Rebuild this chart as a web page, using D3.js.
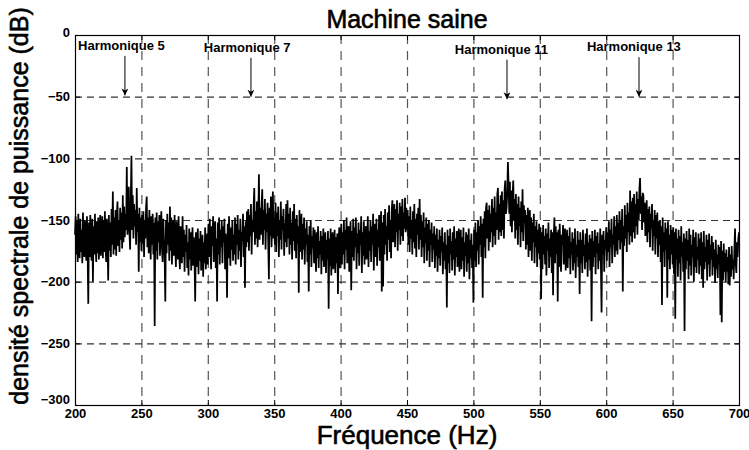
<!DOCTYPE html>
<html>
<head>
<meta charset="utf-8">
<script src="https://cdn.jsdelivr.net/npm/d3@7"></script>
<style>
  html, body { margin: 0; padding: 0; background: #fff; }
  svg { display: block; }
  text { font-family: "Liberation Sans", Arial, Helvetica, sans-serif; }
</style>
</head>
<body>
<div id="chart"></div>
<script>
// ---- Data ----
const freqStart = 200;   // Hz, first sample
const freqStep = 0.5;    // Hz between samples
const psd = [
-162,-147,-178,-151,-184,-145,-170,-181,-149,-176,-158,-185,-144,-172,-180,-150,-166,-183,-147,-175,
-218,-152,-180,-146,-174,-183,-149,-200,-155,-178,-145,-169,-184,-151,-177,-148,-182,-160,-146,-179,
-163,-147,-181,-150,-176,-143,-172,-184,-149,-168,-199,-146,-175,-152,-180,-141,-170,-127,-178,-148,
-174,-142,-179,-146,-135,-171,-150,-176,-140,-166,-144,-173,-130,-168,-139,-164,-145,-158,-107,-162,
-150,-123,-160,-174,-135,-98,-158,-130,-165,-137,-155,-142,-170,-124,-160,-145,-192,-140,-168,-148,
-175,-146,-169,-143,-180,-150,-165,-140,-131,-172,-148,-177,-142,-163,-182,-147,-170,-145,-178,-152,
-236,-148,-175,-144,-182,-151,-168,-146,-179,-155,-143,-173,-184,-149,-166,-180,-216,-150,-177,-145,
-170,-152,-183,-139,-175,-148,-186,-157,-150,-179,-146,-172,-188,-151,-168,-182,-147,-177,-190,-155,
-172,-185,-147,-180,-158,-192,-162,-176,-154,-189,-168,-195,-157,-182,-160,-191,-171,-156,-187,-164,
-180,-216,-160,-188,-170,-157,-194,-165,-183,-159,-191,-173,-162,-196,-168,-185,-156,-190,-175,-161,
-186,-153,-180,-149,-175,-190,-155,-171,-147,-184,-160,-151,-189,-165,-216,-152,-178,-148,-186,-158,
-172,-150,-185,-155,-168,-149,-190,-161,-176,-213,-153,-181,-147,-170,-187,-156,-174,-150,-183,-162,
-178,-148,-186,-153,-170,-146,-182,-158,-175,-149,-188,-160,-167,-145,-180,-155,-205,-151,-172,-143,
-168,-141,-175,-146,-163,-137,-178,-150,-160,-139,-124,-170,-143,-165,-135,-172,-148,-113,-166,-140,
-162,-138,-125,-170,-142,-158,-133,-174,-145,-160,-136,-168,-198,-140,-163,-131,-172,-146,-127,-165,
-148,-170,-136,-176,-144,-163,-139,-180,-150,-166,-135,-174,-147,-158,-141,-179,-152,-168,-137,-172,
-134,-165,-145,-178,-140,-170,-152,-182,-143,-167,-137,-175,-149,-181,-146,-169,-155,-209,-142,-176,
-160,-145,-182,-153,-174,-148,-186,-157,-170,-151,-184,-162,-208,-155,-178,-150,-188,-163,-173,-156,
-185,-158,-176,-192,-160,-181,-155,-189,-167,-178,-159,-194,-163,-183,-157,-188,-171,-160,-193,-166,
-182,-159,-222,-165,-187,-157,-195,-170,-160,-190,-176,-158,-193,-164,-185,-161,-210,-168,-156,-189,
-171,-153,-186,-160,-178,-150,-190,-158,-174,-148,-185,-163,-155,-192,-167,-151,-207,-159,-180,-149,
-183,-156,-172,-148,-190,-161,-177,-152,-187,-158,-170,-147,-193,-160,-179,-151,-186,-164,-155,-182,
-168,-147,-188,-159,-175,-150,-184,-155,-170,-145,-191,-162,-153,-180,-149,-187,-158,-172,-146,-183,
-160,-143,-208,-152,-204,-146,-178,-141,-170,-155,-183,-144,-166,-138,-176,-150,-181,-142,-134,-168,
-150,-137,-172,-141,-160,-134,-175,-145,-158,-136,-170,-139,-163,-133,-167,-144,-157,-132,-160,-140,
-158,-142,-170,-147,-176,-139,-165,-150,-178,-143,-168,-137,-173,-149,-180,-145,-162,-140,-174,-133,
-166,-146,-180,-151,-172,-144,-185,-156,-169,-148,-183,-153,-175,-150,-188,-158,-170,-152,-184,-161,
-174,-155,-189,-162,-179,-157,-192,-166,-181,-158,-187,-163,-176,-156,-194,-168,-183,-160,-190,-170,
-221,-158,-185,-163,-193,-157,-178,-167,-191,-160,-182,-155,-195,-165,-180,-159,-188,-170,-157,-192,
-172,-158,-190,-164,-183,-156,-196,-168,-179,-160,-192,-162,-185,-157,-198,-166,-181,-161,-189,-170,
-217,-158,-183,-152,-188,-160,-175,-150,-186,-155,-170,-147,-180,-153,-213,-149,-172,-143,-181,-140,
-136,-165,-142,-175,-138,-168,-145,-160,-133,-172,-140,-163,-131,-170,-144,-158,-129,-124,-166,-137,
-160,-130,-163,-127,-158,-134,-165,-125,-118,-145,-140,-128,-103,-122,-145,-119,-155,-126,-160,-131,
-118,-150,-133,-165,-129,-158,-137,-170,-131,-155,-140,-172,-135,-160,-125,-167,-138,-152,-142,-174,
-146,-170,-140,-180,-150,-142,-175,-148,-183,-152,-168,-145,-185,-155,-172,-151,-188,-158,-177,-153,
-182,-156,-214,-160,-190,-154,-178,-163,-186,-157,-195,-161,-175,-152,-189,-165,-180,-158,-193,-160,
-211,-163,-148,-185,-155,-178,-160,-216,-158,-188,-153,-176,-192,-162,-170,-154,-186,-165,-157,-191,
-175,-158,-189,-163,-181,-156,-194,-168,-178,-160,-191,-165,-185,-157,-197,-170,-180,-159,-188,-166,
-210,-160,-185,-166,-193,-158,-179,-170,-190,-161,-184,-157,-196,-168,-182,-162,-191,-165,-232,-159,
-188,-167,-180,-158,-194,-163,-177,-160,-190,-169,-183,-157,-186,-225,-162,-178,-159,-192,-166,-174,
-156,-183,-160,-176,-151,-188,-158,-172,-149,-185,-162,-170,-147,-180,-155,-175,-146,-178,-152,-166,
-143,-174,-150,-168,-141,-208,-155,-171,-138,-165,-146,-176,-136,-160,-144,-170,-126,-163,-135,-168,
-132,-160,-129,-165,-137,-155,-127,-162,-133,-150,-125,-116,-145,-131,-158,-128,-130,-152,-136,-163,
-148,-134,-168,-141,-160,-139,-172,-145,-157,-137,-175,-150,-163,-142,-178,-146,-165,-144,-180,-151,
-170,-150,-184,-155,-219,-148,-176,-160,-188,-152,-174,-157,-213,-151,-182,-162,-190,-154,-178,-158,
-186,-156,-194,-160,-230,-157,-182,-165,-196,-158,-185,-163,-199,-155,-180,-168,-192,-161,-240,-165,
-190,-159,-183,-166,-198,-157,-187,-162,-195,-170,-180,-158,-200,-164,-188,-160,-193,-172,-182,-161,
-194,-165,-187,-160,-198,-168,-205,-159,-190,-172,-184,-162,-199,-166,-186,-161,-196,-170,-182,-163,
-195,-168,-188,-174,-201,-166,-190,-178,-197,-170,-185,-172,-227,-167,-233,-175,-199,-169,-192,-177,
-200,-174,-192,-180,-202,-172,-203,-178,-196,-171,-190,-182,-198,-175,-157,-185,-193,-168,-180,-165,
-160
];
const xTicks = [200, 250, 300, 350, 400, 450, 500, 550, 600, 650, 700];
const yTicks = [0, -50, -100, -150, -200, -250, -300];
const harmonicLabels = ["Harmonique 5", "Harmonique 7", "Harmonique 11", "Harmonique 13"];
const harmonicArrowFreq = [237.6, 332.5, 525.3, 624.7];   // arrow x (Hz)
const harmonicLabelFreq = [202.3, 297.0, 486.0, 585.5];   // label left edge (Hz)
const harmonicLabelDb = [-12, -13.5, -15.5, -13];        // label baseline (dB)
const arrowTopDb = [-17, -18.5, -20, -18];
const arrowTipDb = [-49, -50, -52, -50];
const titleText = "Machine saine";
const xLabelText = "Fréquence (Hz)";
const yLabelText = "densité spectrale de puissance (dB)";

// ---- Layout ----
const W = 749, H = 450;
const L = 75, R = 739, T = 35, B = 405;

const svg = d3.select("#chart").append("svg")
  .attr("width", W).attr("height", H)
  .attr("viewBox", `0 0 ${W} ${H}`);
svg.append("rect").attr("width", W).attr("height", H).attr("fill", "#fff");

const x = d3.scaleLinear().domain([200, 700]).range([L, R]);
const y = d3.scaleLinear().domain([-300, 0]).range([B, T]);

// grid
const grid = svg.append("g");
grid.selectAll("line.vg").data(xTicks.slice(1, -1)).join("line")
  .attr("x1", d => x(d) + 0.5).attr("x2", d => x(d) + 0.5)
  .attr("y1", T).attr("y2", B)
  .attr("stroke", "#555").attr("stroke-width", 1.2)
  .attr("stroke-dasharray", "9,7");
grid.selectAll("line.hg").data(yTicks.slice(1, -1)).join("line")
  .attr("x1", L).attr("x2", R)
  .attr("y1", d => y(d) + 0.5).attr("y2", d => y(d) + 0.5)
  .attr("stroke", "#333").attr("stroke-width", 1.2)
  .attr("stroke-dasharray", "7,5");

// data line
const pts = psd.map((v, i) => [freqStart + i * freqStep, v]);
const line = d3.line().x(d => x(d[0])).y(d => y(d[1]));
svg.append("path").datum(pts)
  .attr("d", line)
  .attr("fill", "none")
  .attr("stroke", "#000")
  .attr("stroke-width", 1.75)
  .attr("stroke-linejoin", "miter")
  .attr("stroke-miterlimit", 3);

// axes
const fontTick = "bold 13px 'Liberation Sans', Arial, sans-serif";
svg.append("g").attr("transform", `translate(0,${B})`)
  .call(d3.axisBottom(x).tickValues(xTicks).tickSizeInner(-5).tickSizeOuter(0).tickPadding(4));
svg.append("g").attr("class", "yax").attr("transform", `translate(${L},0)`)
  .call(d3.axisLeft(y).tickValues(yTicks).tickSizeInner(-5).tickSizeOuter(0).tickPadding(5));
svg.append("g").attr("transform", `translate(0,${T})`)
  .call(d3.axisTop(x).tickValues(xTicks).tickSizeInner(-5).tickSizeOuter(0).tickFormat(""));
svg.append("g").attr("transform", `translate(${R},0)`)
  .call(d3.axisRight(y).tickValues(yTicks).tickSizeInner(-5).tickSizeOuter(0).tickFormat(""));
svg.selectAll(".domain").remove();
svg.selectAll(".tick line").attr("stroke", "#000");
svg.selectAll(".tick text").style("font", fontTick).attr("fill", "#000");
// lift the bottom-most y label slightly, as in the reference
svg.select(".yax").selectAll(".tick text").filter(d => d === -300).attr("dy", "-0.1em");
svg.select(".yax").selectAll(".tick text").filter(d => d === 0).attr("dy", "0.1em");

// box
svg.append("rect").attr("x", L + 0.5).attr("y", T + 0.5)
  .attr("width", R - L).attr("height", B - T)
  .attr("fill", "none").attr("stroke", "#000").attr("stroke-width", 1.2);

// annotations
const defs = svg.append("defs");
defs.append("marker").attr("id", "ah").attr("viewBox", "0 0 10 10")
  .attr("refX", 10).attr("refY", 5).attr("markerWidth", 7).attr("markerHeight", 7)
  .attr("markerUnits", "userSpaceOnUse").attr("orient", "auto")
  .append("path").attr("d", "M0,0 L10,5 L0,10 L3,5 Z").attr("fill", "#000");

const ann = svg.append("g");
harmonicLabels.forEach((lab, i) => {
  ann.append("text").attr("x", x(harmonicLabelFreq[i])).attr("y", y(harmonicLabelDb[i]))
    .style("font", "bold 13px 'Liberation Sans', Arial, sans-serif")
    .attr("fill", "#000").text(lab);
  ann.append("line")
    .attr("x1", x(harmonicArrowFreq[i])).attr("x2", x(harmonicArrowFreq[i]))
    .attr("y1", y(arrowTopDb[i])).attr("y2", y(arrowTipDb[i]))
    .attr("stroke", "#000").attr("stroke-width", 1)
    .attr("marker-end", "url(#ah)");
});

// titles (slightly heavier strokes, like the reference rendering)
svg.append("text").attr("x", (L + R) / 2).attr("y", 28)
  .attr("text-anchor", "middle")
  .style("font", "25px 'Liberation Sans', Arial, sans-serif")
  .attr("stroke", "#000").attr("stroke-width", 0.6)
  .text(titleText);
svg.append("text").attr("x", (L + R) / 2).attr("y", 444)
  .attr("text-anchor", "middle")
  .style("font", "26px 'Liberation Sans', Arial, sans-serif")
  .attr("stroke", "#000").attr("stroke-width", 0.6)
  .text(xLabelText);
svg.append("text")
  .attr("transform", `translate(28,${(T + B) / 2 - 14}) rotate(-90)`)
  .attr("text-anchor", "middle")
  .style("font", "25px 'Liberation Sans', Arial, sans-serif")
  .attr("stroke", "#000").attr("stroke-width", 0.6)
  .text(yLabelText);
</script>
</body>
</html>
